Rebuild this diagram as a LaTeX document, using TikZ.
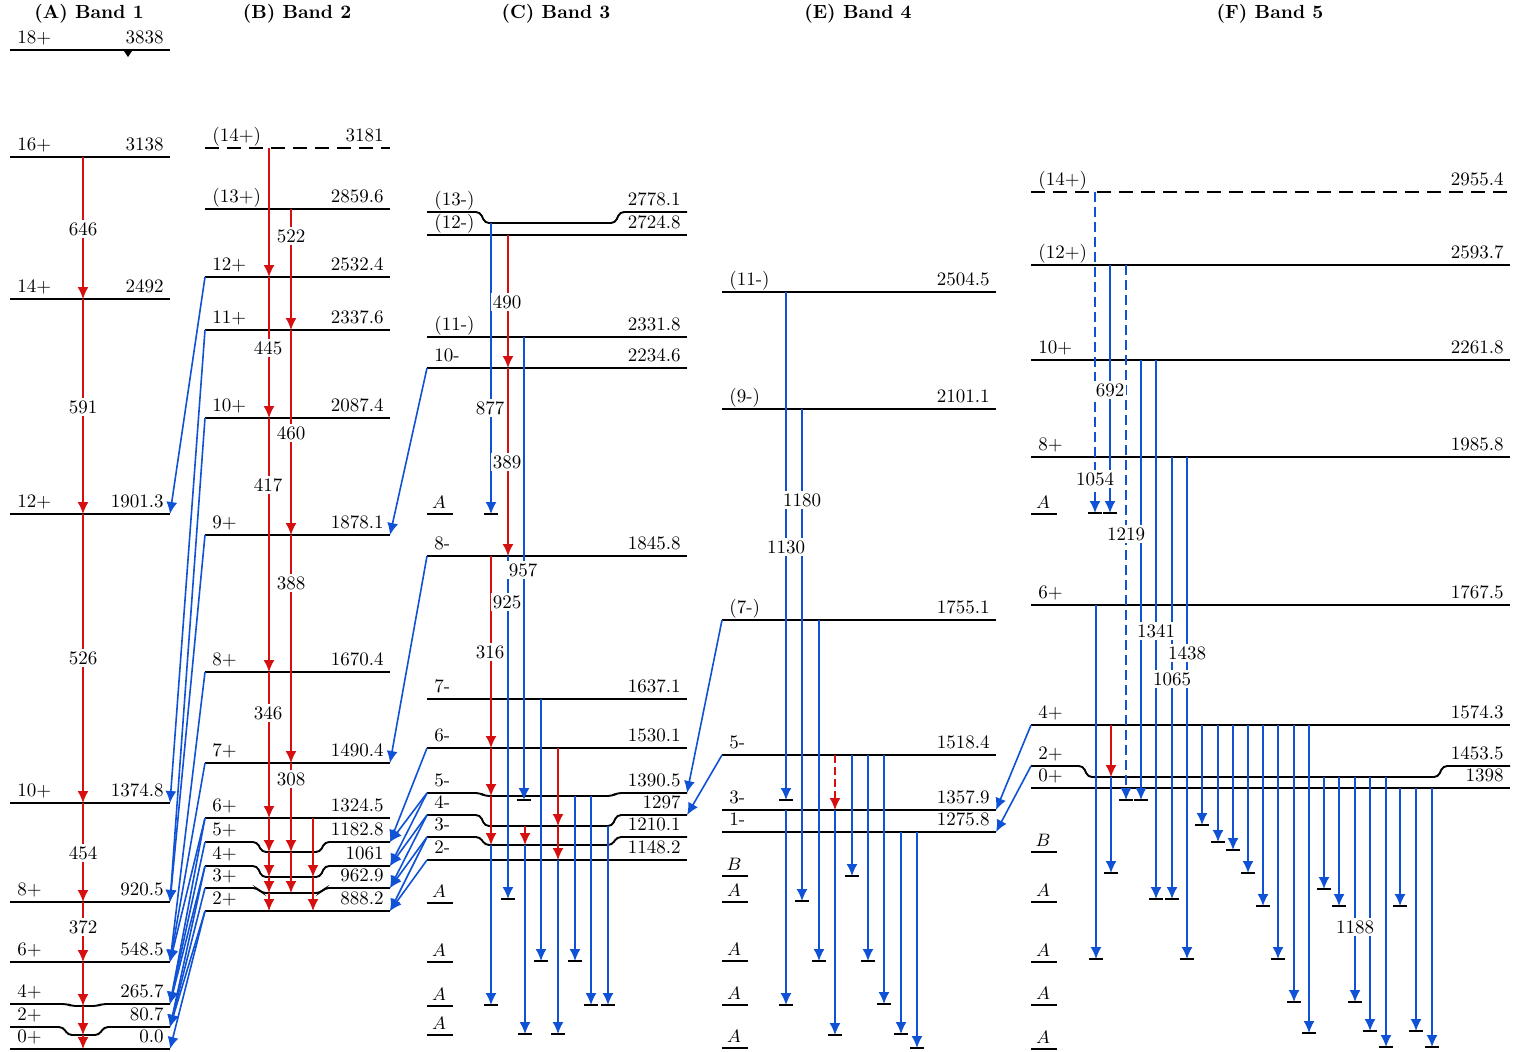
\documentclass[tikz,border=0pt]{standalone}
\usetikzlibrary{arrows.meta}
\definecolor{gblue}{RGB}{16,82,214}
\definecolor{gred}{RGB}{214,16,16}
\tikzset{
 level/.style={line width=0.95pt, black},
 dlevel/.style={dash pattern=on 7pt off 4pt},
 gam/.style={line width=0.8pt, gblue, -{Latex[length=6pt,width=5.5pt]}},
 gamred/.style={line width=0.8pt, gred, -{Latex[length=6pt,width=5.5pt]}},
 dgam/.style={dash pattern=on 5pt off 2.5pt},
 tbar/.style={line width=1.2pt, black},
 lab/.style={font=\fontsize{9.5}{11}\selectfont, inner sep=0pt},
 elab/.style={lab, fill=white, inner sep=1pt},
 title/.style={font=\fontsize{9.5}{12}\selectfont\bfseries, inner sep=0pt},
}
% level: [style]{name}{xl}{xr}{y}{spin}{energy}
\newcommand\Lvl[7][]{%
 \coordinate (#2-l) at (#3,#5); \coordinate (#2-r) at (#4,#5);
 \draw[level,#1] (#2-l) -- (#2-r);
 \node[lab,anchor=base west] (#2-s) at ({#3+7},{#5-7}) {#6};
 \node[lab,anchor=base east] (#2-e) at ({#4-6},{#5-7}) {#7};}
% dipped level: {name}{xl}{xr}{y}{ydip}{a}{b}{spin}{energy}
\newcommand\DLvl[9]{%
 \coordinate (#1-l) at (#2,#4); \coordinate (#1-r) at (#3,#4);
 \draw[level,rounded corners=2pt] (#1-l) -- (#6,#4) -- ({#6+5},#5) -- ({#7-5},#5) -- (#7,#4) -- (#1-r);
 \node[lab,anchor=base west] (#1-s) at ({#2+7},{#4-7}) {#8};
 \node[lab,anchor=base east] (#1-e) at ({#3-6},{#4-7}) {#9};}
% blue transition ending on a bar: [style]{x}{y1}{y2}
\newcommand\Gb[4][]{\draw[gam,#1] (#2,#3) -- (#2,#4); \draw[tbar] ({#2-7},{#4}) -- ({#2+7},{#4});}
% red transition
\newcommand\Gr[4][]{\draw[gamred,#1] (#2,#3) -- (#2,#4);}
% marker: {name}{xl}{y}{letter}
\newcommand\Mk[4]{\draw[level] (#2,#3) -- ({#2+26},#3); \node[lab,anchor=base] (#1) at ({#2+12},{#3-6}) {$#4$};}
\begin{document}
\begin{tikzpicture}[x=0.5pt,y=-0.5pt]
\useasboundingbox (0,0) rectangle (1513,1051);
\fill[white] (0,0) rectangle (1513,1051);
% titles
\node[title] (tA) at (89,14) {(A) Band 1};
\node[title] (tB) at (297,14) {(B) Band 2};
\node[title] (tC) at (556,14) {(C) Band 3};
\node[title] (tE) at (858,14) {(E) Band 4};
\node[title] (tF) at (1270,14) {(F) Band 5};

% ---------------- Band 1
\Lvl{a18}{10}{170}{50}{18+}{3838}
\Lvl{a16}{10}{170}{157}{16+}{3138}
\Lvl{a14}{10}{170}{299}{14+}{2492}
\Lvl{a12}{10}{170}{514}{12+}{1901.3}
\Lvl{a10}{10}{170}{803}{10+}{1374.8}
\Lvl{a8}{10}{170}{902}{8+}{920.5}
\Lvl{a6}{10}{170}{962}{6+}{548.5}
\DLvl{a4}{10}{170}{1004}{1006}{67}{102}{4+}{265.7}
\DLvl{a2}{10}{170}{1027}{1035}{63}{104}{2+}{80.7}
\Lvl{a0}{10}{170}{1049}{0+}{0.0}
\fill (124,51) -- (132,51) -- (128,57) -- cycle;
\Gr{83}{157}{299} \Gr{83}{299}{514} \Gr{83}{514}{803} \Gr{83}{803}{902}
\Gr{83}{902}{962} \Gr{83}{962}{1006} \Gr{83}{1006}{1035} \Gr{83}{1035}{1049}
\node[elab] (g646) at (83,229) {646};
\node[elab] (g591) at (83,407) {591};
\node[elab] (g526) at (83,658) {526};
\node[elab] (g454) at (83,853) {454};
\node[elab] (g372) at (83,927) {372};

% ---------------- Band 2
\Lvl[dlevel]{b14}{205}{390}{148}{(14+)}{3181}
\Lvl{b13}{205}{390}{209}{(13+)}{2859.6}
\Lvl{b12}{205}{390}{277}{12+}{2532.4}
\Lvl{b11}{205}{390}{330}{11+}{2337.6}
\Lvl{b10}{205}{390}{418}{10+}{2087.4}
\Lvl{b9}{205}{390}{535}{9+}{1878.1}
\Lvl{b8}{205}{390}{672}{8+}{1670.4}
\Lvl{b7}{205}{390}{763}{7+}{1490.4}
\Lvl{b6}{205}{390}{818}{6+}{1324.5}
\DLvl{b5}{205}{390}{842}{852}{257}{325}{5+}{1182.8}
\DLvl{b4}{205}{390}{866}{877}{257}{325}{4+}{1061}
\DLvl{b3}{205}{390}{888}{893}{257}{325}{3+}{962.9}
\Lvl{b2}{205}{390}{911}{2+}{888.2}
\Gr{269}{148}{277} \Gr{269}{277}{418} \Gr{269}{418}{672} \Gr{269}{672}{818}
\Gr{269}{818}{852} \Gr{269}{852}{877} \Gr{269}{877}{893} \Gr{269}{893}{911}
\Gr{291}{209}{330} \Gr{291}{330}{535} \Gr{291}{535}{763} \Gr{291}{763}{852} \Gr{291}{852}{893}
\Gr{313}{818}{877} \Gr{313}{877}{911}
\node[elab] (g522) at (291,236) {522};
\node[elab] (g445) at (268,348) {445};
\node[elab] (g460) at (291,433) {460};
\node[elab] (g417) at (268,485) {417};
\node[elab] (g388) at (291,583) {388};
\node[elab] (g346) at (268,713) {346};
\node[elab] (g308) at (291,779) {308};
% band 2 -> band 1
\draw[gam] (b12-l) -- (a12-r);
\draw[gam] (b11-l) -- (a10-r);
\draw[gam] (b10-l) -- (a8-r);
\draw[gam] (b9-l) -- (a8-r);
\draw[gam] (b8-l) -- (a6-r);
\draw[gam] (b7-l) -- (a6-r);
\draw[gam] (b6-l) -- (a6-r);
\draw[gam] (b6-l) -- (a4-r);
\draw[gam] (b5-l) -- (a4-r);
\draw[gam] (b4-l) -- (a4-r);
\draw[gam] (b4-l) -- (a2-r);
\draw[gam] (b3-l) -- (a2-r);
\draw[gam] (b2-l) -- (a2-r);
\draw[gam] (b2-l) -- (a0-r);

% ---------------- Band 3
\DLvl{c13}{427}{687}{212}{223}{480}{620}{(13-)}{2778.1}
\Lvl{c12}{427}{687}{235}{(12-)}{2724.8}
\Lvl{c11}{427}{687}{337}{(11-)}{2331.8}
\Lvl{c10}{427}{687}{368}{10-}{2234.6}
\Lvl{c8}{427}{687}{556}{8-}{1845.8}
\Lvl{c7}{427}{687}{699}{7-}{1637.1}
\Lvl{c6}{427}{687}{748}{6-}{1530.1}
\DLvl{c5}{427}{687}{793}{796}{480}{617}{5-}{1390.5}
\DLvl{c4}{427}{687}{815}{826}{480}{617}{4-}{1297}
\DLvl{c3}{427}{687}{837}{845}{480}{617}{3-}{1210.1}
\Lvl{c2}{427}{687}{860}{2-}{1148.2}
\Mk{mc1}{427}{514}{A}
\Mk{mc2}{427}{903}{A}
\Mk{mc3}{427}{962}{A}
\Mk{mc4}{427}{1006}{A}
\Mk{mc5}{427}{1035}{A}
\Gb{491}{223}{514}
\Gr{508}{235}{368} \Gr{508}{368}{556} \Gb{508}{556}{899}
\Gb{524}{337}{800}
\Gr{491}{556}{748} \Gr{491}{748}{796} \Gr{491}{796}{845} \Gb{491}{845}{1005}
\Gr{525}{826}{845} \Gb{525}{845}{1034}
\Gr{558}{748}{826} \Gr{558}{826}{860} \Gb{558}{860}{1034}
\Gb{541}{699}{961}
\Gb{575}{796}{961}
\Gb{591}{796}{1005}
\Gb{608}{826}{1005}
\node[elab] (g490) at (507,302) {490};
\node[elab] (g877) at (490,408) {877};
\node[elab] (g389) at (507,462) {389};
\node[elab] (g957) at (523,570) {957};
\node[elab] (g925) at (507,602) {925};
\node[elab] (g316) at (490,652) {316};
% band 3 -> band 2
\draw[gam] (c10-l) -- (b9-r);
\draw[gam] (c8-l) -- (b7-r);
\draw[gam] (c6-l) -- (b5-r);
\draw[gam] (c5-l) -- (b5-r);
\draw[gam] (c5-l) -- (b4-r);
\draw[gam] (c4-l) -- (b4-r);
\draw[gam] (c4-l) -- (b3-r);
\draw[gam] (c3-l) -- (b3-r);
\draw[gam] (c3-l) -- (b2-r);
\draw[gam] (c2-l) -- (b2-r);

% ---------------- Band 4
\Lvl{e11}{722}{996}{292}{(11-)}{2504.5}
\Lvl{e9}{722}{996}{409}{(9-)}{2101.1}
\Lvl{e7}{722}{996}{620}{(7-)}{1755.1}
\Lvl{e5}{722}{996}{755}{5-}{1518.4}
\Lvl{e3}{722}{996}{810}{3-}{1357.9}
\Lvl{e1}{722}{996}{832}{1-}{1275.8}
\Mk{me1}{722}{876}{B}
\Mk{me2}{722}{902}{A}
\Mk{me3}{722}{961}{A}
\Mk{me4}{722}{1005}{A}
\Mk{me5}{722}{1048}{A}
\Gb{786}{292}{800} \Gb{786}{810}{1005}
\Gb{802}{409}{901}
\Gb{819}{620}{961}
\Gr[dash pattern=on 4pt off 2pt]{835}{755}{810} \Gb{835}{810}{1035}
\Gb{852}{755}{876}
\Gb{868}{755}{961}
\Gb{884}{755}{1004}
\Gb{901}{832}{1034}
\Gb{917}{832}{1048}
\node[elab] (g1180) at (802,500) {1180};
\node[elab] (g1130) at (786,547) {1130};
% band 4 -> band 3
\draw[gam] (e7-l) -- (c5-r);
\draw[gam] (e5-l) -- (c4-r);

% ---------------- Band 5
\Lvl[dlevel]{f14}{1031}{1510}{192}{(14+)}{2955.4}
\Lvl{f12}{1031}{1510}{265}{(12+)}{2593.7}
\Lvl{f10}{1031}{1510}{360}{10+}{2261.8}
\Lvl{f8}{1031}{1510}{457}{8+}{1985.8}
\Lvl{f6}{1031}{1510}{605}{6+}{1767.5}
\Lvl{f4}{1031}{1510}{725}{4+}{1574.3}
\DLvl{f2}{1031}{1510}{766}{777}{1083}{1443}{2+}{1453.5}
\Lvl{f0}{1031}{1510}{788}{0+}{1398}
\Mk{mf1}{1031}{514}{A}
\Mk{mf2}{1031}{852}{B}
\Mk{mf3}{1031}{902}{A}
\Mk{mf4}{1031}{962}{A}
\Mk{mf5}{1031}{1005}{A}
\Mk{mf6}{1031}{1049}{A}
\Gb[dgam]{1095}{192}{513}
\Gb{1110}{265}{513}
\Gb[dgam]{1126}{265}{800}
\Gb{1141}{360}{800}
\Gb{1156}{360}{899}
\Gb{1172}{457}{899}
\Gb{1187}{457}{959}
\Gb{1096}{605}{959}
\Gr{1111}{725}{777} \Gb{1111}{777}{873}
\Gb{1202}{725}{825}
\Gb{1218}{725}{842}
\Gb{1233}{725}{850}
\Gb{1248}{725}{873}
\Gb{1263}{725}{906}
\Gb{1278}{725}{959}
\Gb{1294}{725}{1002}
\Gb{1309}{725}{1033}
\Gb{1324}{777}{889}
\Gb{1339}{777}{906}
\Gb{1355}{777}{1002}
\Gb{1370}{777}{1031}
\Gb{1386}{777}{1047}
\Gb{1400}{788}{906}
\Gb{1416}{788}{1031}
\Gb{1432}{788}{1047}
\node[elab] (g692) at (1110,390) {692};
\node[elab] (g1054) at (1095,479) {1054};
\node[elab] (g1219) at (1126,534) {1219};
\node[elab] (g1341) at (1156,631) {1341};
\node[elab] (g1438) at (1187,653) {1438};
\node[elab] (g1065) at (1172,679) {1065};
\node[elab] (g1188) at (1355,927) {1188};
% band 5 -> band 4
\draw[gam] (f4-l) -- (e3-r);
\draw[gam] (f2-l) -- (e1-r);
\end{tikzpicture}
\end{document}
